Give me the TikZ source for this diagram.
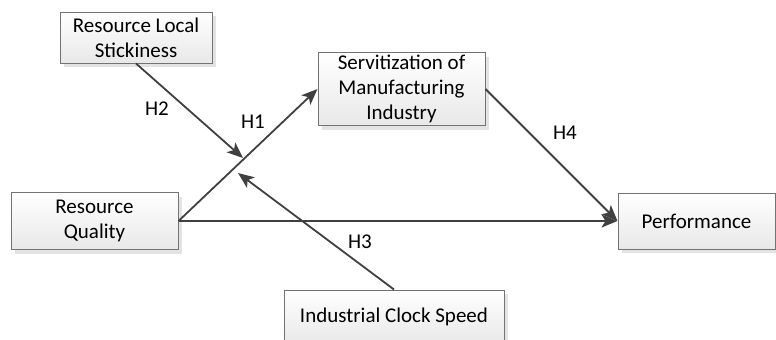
\documentclass[tikz,border=0pt]{standalone}
\usepackage{fontspec}
\setmainfont{Carlito}
\usetikzlibrary{arrows.meta,shadows}

\tikzset{
  factor/.style={draw=black!55,line width=0.5pt,top color=white,bottom color=black!9,
    drop shadow={opacity=0.22,shadow xshift=2pt,shadow yshift=-2pt},
    align=center,inner sep=0pt,font=\fontsize{10.5}{12.5}\selectfont},
  path/.style={draw=black!75,line width=0.9pt,-{Stealth[length=8pt,width=6.5pt,inset=2pt]}},
  hyp/.style={font=\fontsize{10.5}{12.5}\selectfont}
}

\begin{document}
\begin{tikzpicture}[x=0.5pt,y=-0.5pt]
  \useasboundingbox (0,0) rectangle (776,339);
  \clip (0,0) rectangle (776,339);
  % constructs
  \node[factor,minimum width=76pt,minimum height=25.5pt] (stick) at (136,37.5) {Resource Local\\Stickiness};
  \node[factor,minimum width=83.5pt,minimum height=36.5pt] (serv) at (401.5,89) {Servitization of\\Manufacturing\\Industry};
  \node[factor,minimum width=83.5pt,minimum height=28.5pt] (qual) at (94.5,221) {Resource\\Quality};
  \node[factor,minimum width=78.5pt,minimum height=28pt] (perf) at (696.5,221) {Performance};
  \node[factor,minimum width=110pt,minimum height=27pt] (clock) at (394,317) {Industrial Clock Speed};
  % moderation targets
  \coordinate (h2tip) at (243,158);
  \coordinate (h3tip) at (238,173);
  % paths
  \draw[path] (qual.east) -- (serv.west);
  \draw[path] (qual.east) -- (perf.west);
  \draw[path] (serv.east) -- (perf.west);
  \draw[path] (stick.south) -- (h2tip);
  \draw[path] (clock.north) -- (h3tip);
  % hypotheses
  \node[hyp] (lh1) at (253,122) {H1};
  \node[hyp] (lh2) at (157,109) {H2};
  \node[hyp] (lh3) at (360,242) {H3};
  \node[hyp] (lh4) at (565,133) {H4};
\end{tikzpicture}
\end{document}
